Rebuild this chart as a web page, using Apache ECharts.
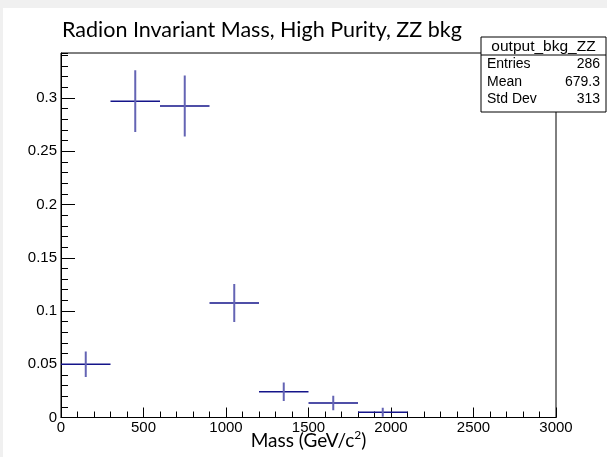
<!DOCTYPE html>
<html>
<head>
<meta charset="utf-8">
<script src="https://cdn.jsdelivr.net/npm/echarts@6/dist/echarts.min.js"></script>
<style>
html,body{margin:0;padding:0;background:#f0f0f0;}
#chart{position:absolute;left:0;top:0;width:607px;height:457px;}
</style>
</head>
<body>
<div id="chart"></div>
<script>
// Histogram data (bins of 300 GeV)
const binLow  = [0, 300, 600, 900, 1200, 1500, 1800];
const binHigh = [300, 600, 900, 1200, 1500, 1800, 2100];
const values  = [0.050, 0.297, 0.2925, 0.1075, 0.0242, 0.0136, 0.0049];
const errors  = [0.012, 0.029, 0.0286, 0.0178, 0.0086, 0.0068, 0.0042];
const xTicks  = [0, 500, 1000, 1500, 2000, 2500, 3000];
const yMax = 0.3423;

const statsLabels = ['Entries', 'Mean', 'Std Dev'];
const statsValues = ['286', '679.3', '313'];

const chart = echarts.init(document.getElementById('chart'), null, {renderer: 'canvas'});

const seriesData = binLow.map((lo, i) => [lo, binHigh[i], values[i], errors[i]]);

const labelFont = 'Liberation Sans';

const statsGraphics = [];
const bx = 481, by = 37, bw = 125, bh = 75;
statsGraphics.push({type: 'rect', shape: {x: bx, y: by, width: bw, height: bh},
  style: {fill: '#fff', stroke: '#000', lineWidth: 1}, z: 100});
statsGraphics.push({type: 'line', shape: {x1: bx, y1: by + 18, x2: bx + bw, y2: by + 18},
  style: {stroke: '#000', lineWidth: 1}, z: 101});
statsGraphics.push({type: 'text', x: bx + bw / 2, y: by + 9.5, z: 101,
  style: {text: 'output_bkg_ZZ', font: '15.5px ' + labelFont, fill: '#000', align: 'center', verticalAlign: 'middle'}});
statsLabels.forEach((lab, i) => {
  const yy = by + 27.5 + i * 17.5;
  statsGraphics.push({type: 'text', x: bx + 6, y: yy, z: 101,
    style: {text: lab, font: '14px ' + labelFont, fill: '#000', align: 'left', verticalAlign: 'middle'}});
  statsGraphics.push({type: 'text', x: bx + bw - 6, y: yy, z: 101,
    style: {text: statsValues[i], font: '14px ' + labelFont, fill: '#000', align: 'right', verticalAlign: 'middle'}});
});

const option = {
  animation: false,
  backgroundColor: 'transparent',
  graphic: [
    {type: 'rect', shape: {x: 3, y: 8, width: 604, height: 449}, style: {fill: '#ffffff'}, z: -10, silent: true},
    {type: 'text', left: 62, top: 19, z: 50,
      style: {text: 'Radion Invariant Mass, High Purity, ZZ bkg', font: '21.5px Lato', fill: '#000'}}
  ].concat(statsGraphics),
  grid: {left: 61, right: 51, top: 53, bottom: 39.5, show: true, borderColor: '#000', borderWidth: 1,
    backgroundColor: '#fff', containLabel: false, outerBoundsMode: 'none'},
  xAxis: {
    type: 'value', min: 0, max: 3000, interval: 500,
    axisLine: {show: true, lineStyle: {color: '#000', width: 1}},
    axisTick: {show: true, inside: true, length: 10, lineStyle: {color: '#000'}},
    minorTick: {show: true, splitNumber: 5, length: 6, lineStyle: {color: '#000'}},
    splitLine: {show: false},
    axisLabel: {color: '#000', fontFamily: labelFont, fontSize: 15, margin: 3,
      formatter: v => xTicks.indexOf(v) >= 0 ? String(v) : ''},
    name: 'Mass (GeV/c{sup|2})', nameLocation: 'middle', nameGap: 12, nameMoveOverlap: false,
    nameTextStyle: {color: '#000', fontFamily: 'Lato', fontSize: 19,
      rich: {sup: {fontFamily: 'Lato', fontSize: 12, color: '#000', verticalAlign: 'top', padding: [0, 0, 10, 0]}}}
  },
  yAxis: [{
    type: 'value', min: 0, max: yMax, interval: 0.05,
    axisLine: {show: true, lineStyle: {color: '#000', width: 1}},
    axisTick: {show: true, inside: true, length: 14, lineStyle: {color: '#000'}},
    splitLine: {show: false},
    axisLabel: {color: '#000', fontFamily: labelFont, fontSize: 15, margin: 4, showMaxLabel: false,
      formatter: v => {const r = Math.round(v * 100) / 100; return Math.abs(r - v) < 1e-6 ? String(r) : '';}}
  }, {
    type: 'value', min: 0, max: yMax, interval: 0.01, position: 'left', offset: 0,
    axisLine: {show: false},
    axisTick: {show: true, inside: true, length: 7, lineStyle: {color: '#000'}},
    splitLine: {show: false},
    axisLabel: {show: false}
  }],
  series: [{
    type: 'custom',
    xAxisIndex: 0, yAxisIndex: 0,
    data: seriesData,
    clip: true,
    renderItem: function (params, api) {
      const lo = api.value(0), hi = api.value(1), v = api.value(2), e = api.value(3);
      const pL = api.coord([lo, v]);
      const pR = api.coord([hi, v]);
      const mid = (lo + hi) / 2;
      const pT = api.coord([mid, v + e]);
      const pB = api.coord([mid, v - e]);
      return {
        type: 'group',
        children: [
          {type: 'line', shape: {x1: pL[0], y1: pL[1], x2: pR[0], y2: pR[1]},
            style: {stroke: '#14148a', lineWidth: 1.5}},
          {type: 'line', shape: {x1: pT[0], y1: pT[1], x2: pB[0], y2: pB[1]},
            style: {stroke: '#6464b4', lineWidth: 2}}
        ]
      };
    }
  }]
};
chart.setOption(option);
</script>
</body>
</html>
